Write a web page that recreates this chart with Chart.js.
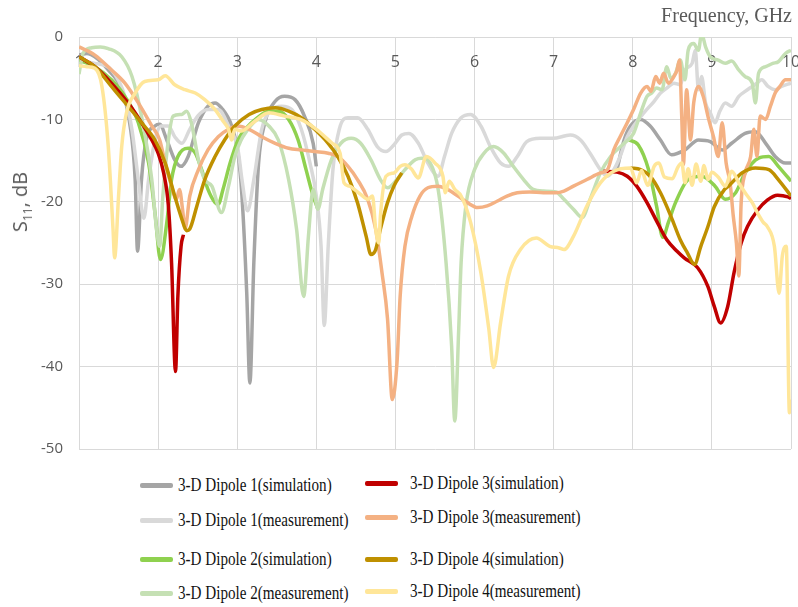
<!DOCTYPE html>
<html>
<head>
<meta charset="utf-8">
<script src="https://cdn.jsdelivr.net/npm/chart.js@4.4.1/dist/chart.umd.min.js"></script>
<style>
  body { margin: 0; background: #fff; }
  #page { position: relative; width: 798px; height: 607px; overflow: hidden; background: #fff; }
  #wrap { position: absolute; left: 0; top: 0; width: 798px; height: 460px; }
  .xtitle { position: absolute; right: 6px; top: 4px; font: 20px "Liberation Serif", serif; color: #595959; white-space: nowrap; }
  .ytitle { position: absolute; left: 21px; top: 202px; transform: translate(-50%, -50%) rotate(-90deg);
            font: 20px "Open Sans", sans-serif; color: #595959; white-space: nowrap; }
  .ytitle sub { font-size: 12px; }
  .leg-line { position: absolute; width: 33px; height: 5px; border-radius: 2px; }
  .leg-text { position: absolute; font: 18px "Liberation Serif", serif; color: #111; white-space: nowrap;
              transform: scaleX(0.84); transform-origin: left center; line-height: 22px; }
</style>
</head>
<body>
<div id="page">
  <div id="wrap"><canvas id="chart"></canvas></div>
  <div class="xtitle">Frequency, GHz</div>
  <div class="ytitle">S<sub>11</sub>, dB</div>
  <div id="legend"></div>
</div>
<script>
// x ticks / y ticks
const freqTicks = [1, 2, 3, 4, 5, 6, 7, 8, 9, 10];
const dbTicks = [0, -10, -20, -30, -40, -50];

// 3-D Dipole 1 (simulation)
const d1SimFreq = [1.0, 1.1, 1.2, 1.37, 1.54, 1.64, 1.71, 1.74, 1.79, 1.85, 1.96, 2.02, 2.11, 2.21, 2.29, 2.38, 2.51, 2.63, 2.72, 2.8, 2.93, 3.01, 3.06, 3.12, 3.16, 3.21, 3.27, 3.35, 3.48, 3.6, 3.73, 3.85, 3.96, 4.0,
  5.0,
  7.8, 7.89, 7.97, 8.1, 8.22, 8.35, 8.49, 8.66, 8.83, 8.98, 9.13, 9.25, 9.42, 9.55, 9.68, 9.8, 9.93, 10.0];
const d1SimDb = [-2.2, -2.0, -2.4, -4, -6.4, -10.4, -17.3, -26, -17.3, -12.5, -10.8, -10.6, -12.5, -14.9, -15.7, -14.5, -10.4, -8.4, -8.0, -8.6, -10.8, -14.1, -19.3, -31, -42, -27.4, -15.3, -10.4, -7.8, -7.2, -7.6, -9.6, -12.9, -15.7,
  null,
  -16.1, -12.5, -10.8, -10.0, -10.8, -12.5, -14.3, -13.7, -12.5, -12.7, -13.7, -12.9, -11.7, -11.5, -12.9, -14.5, -15.3, -15.3];

// 3-D Dipole 1 (measurement)
const d1MeasFreq = [1.0, 1.2, 1.41, 1.58, 1.67, 1.75, 1.82, 1.88, 1.96, 2.04, 2.13, 2.21, 2.3, 2.4, 2.5, 2.63, 2.76, 2.89, 3.01, 3.06, 3.13, 3.21, 3.31, 3.44, 3.56, 3.69, 3.81, 3.92, 4.0, 4.06, 4.1, 4.15, 4.21, 4.29, 4.4, 4.52, 4.65, 4.77, 4.88, 4.98, 5.08, 5.17, 5.29, 5.41, 5.54, 5.62, 5.71, 5.83, 5.95, 6.08, 6.2, 6.33, 6.43, 6.54, 6.66, 6.83, 6.99, 7.21, 7.34, 7.46, 7.59, 7.68, 7.76, 7.84, 7.93, 8.01, 8.14, 8.27, 8.35, 8.43, 8.52, 8.6, 8.66, 8.75, 8.79, 8.83, 8.87, 8.92, 8.98, 9.04, 9.1, 9.17, 9.25, 9.34, 9.42, 9.51, 9.57, 9.63, 9.71, 9.8, 9.88, 10.0];
const d1MeasDb = [-3, -3.2, -4, -7.2, -11.3, -17.3, -22, -17.3, -12.5, -10.8, -10.8, -12.1, -12.9, -11.2, -9.6, -8.8, -8.8, -10.8, -13.7, -17.3, -21.1, -17.3, -11.2, -8.8, -8.4, -8.8, -11.2, -15.3, -19.3, -25.4, -35, -25.4, -16.1, -11.2, -9.8, -9.8, -11.2, -13.3, -13.9, -13.1, -11.9, -11.7, -12.9, -15.3, -16.9, -14.5, -11.7, -9.8, -9.4, -10.8, -13.3, -15.3, -15.7, -14.5, -12.7, -12.3, -12.3, -11.9, -12.5, -14.1, -16.1, -16.9, -16.1, -14.5, -12.1, -10.8, -9.2, -7.8, -6.8, -6.2, -5.6, -5.8, -4.0, -3.2, -1.6, -6.4, -4.8, -8.0, -9.2, -10.4, -9.0, -8, -8.4, -7.2, -6.6, -6, -5.6, -5.2, -6.0, -6.4, -6.0, -5.6];

// 3-D Dipole 2 (simulation)
const d2SimFreq = [1.0, 1.2, 1.41, 1.58, 1.75, 1.88, 1.96, 2.03, 2.11, 2.17, 2.25, 2.38, 2.47, 2.55, 2.63, 2.72, 2.76, 2.82, 2.91, 3.01, 3.12, 3.23, 3.4, 3.52, 3.65, 3.77, 3.87, 3.96, 4.02,
  5.0,
  7.95, 8.07, 8.2, 8.3, 8.38, 8.45, 8.54, 8.7, 8.87, 9.04, 9.17, 9.3, 9.42, 9.59, 9.72, 9.84, 10.0];
const d2SimDb = [-2.8, -3.6, -5.2, -7.2, -10.4, -15.3, -21.3, -27, -22.5, -17.3, -14.5, -13.5, -14.1, -16.1, -18.5, -20.1, -20.3, -18.5, -15.3, -12.5, -11.0, -10, -9.0, -9, -10, -12.5, -16.1, -19.3, -20.9,
  null,
  -12.5, -13.1, -16.1, -20.5, -24.3, -22.5, -20.1, -17.3, -16.9, -18.1, -19.7, -18.9, -16.5, -14.7, -14.5, -15.7, -17.5];

// 3-D Dipole 2 (measurement)
const d2MeasFreq = [1.0, 1.05, 1.16, 1.27, 1.37, 1.54, 1.67, 1.79, 1.92, 1.98, 2.02, 2.06, 2.13, 2.19, 2.3, 2.36, 2.42, 2.51, 2.59, 2.68, 2.8, 2.89, 2.97, 3.05, 3.1, 3.27, 3.4, 3.52, 3.65, 3.75, 3.84, 3.9, 3.96, 4.02, 4.08, 4.19, 4.31, 4.44, 4.56, 4.69, 4.81, 4.9, 5.02, 5.12, 5.25, 5.33, 5.44, 5.54, 5.64, 5.71, 5.75, 5.8, 5.83, 5.89, 6.0, 6.12, 6.24, 6.37, 6.49, 6.62, 6.74, 6.87, 7.03, 7.13, 7.25, 7.36, 7.46, 7.59, 7.72, 7.89, 8.01, 8.1, 8.18, 8.24, 8.3, 8.37, 8.43, 8.48, 8.54, 8.6, 8.66, 8.7, 8.77, 8.83, 8.87, 8.92, 8.98, 9.08, 9.17, 9.25, 9.34, 9.42, 9.51, 9.55, 9.59, 9.68, 9.77, 9.84, 9.93, 10.0];
const d2MeasDb = [-4.5, -2.0, -1.3, -1.2, -1.4, -2.4, -4.8, -9.6, -17.3, -23.3, -25.4, -19.3, -12.5, -9.6, -9.4, -9, -10.4, -14.9, -17.3, -18.1, -21.3, -18.1, -14.5, -12.5, -11.7, -10, -10.8, -12.5, -17.3, -23.3, -31.5, -24.2, -18.5, -20.9, -18.5, -14.9, -12.9, -12.3, -12.9, -14.9, -17.3, -18.3, -17.3, -16.1, -14.9, -14.7, -15.3, -18.5, -27.4, -37.5, -46.6, -35.4, -27.4, -20.5, -16.1, -14.1, -13.3, -14.1, -15.7, -17.3, -18.5, -18.7, -18.8, -19.7, -20.9, -21.9, -19.7, -16.5, -14.5, -12.9, -11.7, -9.2, -7.2, -6.8, -6.2, -6.4, -3.6, -5.0, -4.4, -2.8, -5.2, -1.6, -0.8, -1.6, 0.4, -1.2, -2.4, -2.8, -3.2, -2.9, -4, -4.8, -5.6, -8.0, -4.4, -3.6, -3.2, -3.0, -2.0, -1.6];

// 3-D Dipole 3 (simulation)
const d3SimFreq = [1.0, 1.2, 1.41, 1.62, 1.79, 1.92, 2.0, 2.07, 2.13, 2.17, 2.22, 2.25, 2.29, 2.32,
  5.0,
  7.63, 7.8, 7.93, 8.05, 8.18, 8.31, 8.43, 8.56, 8.65, 8.82, 8.95, 9.03, 9.11, 9.2, 9.28, 9.37, 9.45, 9.58, 9.7, 9.83, 9.96, 10.0];
const d3SimDb = [-2.4, -3.6, -5.6, -8, -10.4, -12.5, -14.1, -16.5, -20.5, -27.4, -40.6, -31.4, -25.4, -24,
  null,
  -16.3, -16.4, -16.9, -18.1, -20.1, -22.5, -24.6, -26, -26.8, -28, -30.3, -32.7, -34.7, -32.7, -28.6, -25, -23, -21, -19.8, -19.2, -19.4, -19.6];

// 3-D Dipole 3 (measurement)
const d3MeasFreq = [1.0, 1.2, 1.41, 1.58, 1.75, 1.92, 2.02, 2.09, 2.17, 2.23, 2.27, 2.31, 2.34, 2.4, 2.51, 2.63, 2.76, 2.89, 3.0, 3.15, 3.31, 3.48, 3.65, 3.81, 3.98, 4.15, 4.27, 4.4, 4.52, 4.65, 4.75, 4.83, 4.9, 4.96, 5.02, 5.06, 5.12, 5.21, 5.31, 5.41, 5.54, 5.66, 5.79, 5.91, 6.04, 6.16, 6.29, 6.41, 6.54, 6.7, 6.87, 7.03, 7.13, 7.25, 7.42, 7.59, 7.68, 7.76, 7.84, 7.93, 8.01, 8.1, 8.18, 8.23, 8.29, 8.34, 8.39, 8.45, 8.52, 8.56, 8.59, 8.62, 8.64, 8.68, 8.73, 8.77, 8.83, 8.89, 8.96, 9.02, 9.08, 9.13, 9.18, 9.23, 9.27, 9.31, 9.34, 9.37, 9.42, 9.49, 9.53, 9.57, 9.61, 9.68, 9.74, 9.8, 9.86, 9.93, 10.0];
const d3MeasDb = [-1.2, -2.2, -4, -5.6, -8, -10.8, -12.5, -15.3, -18.1, -19.7, -18.5, -21, -23.3, -19.3, -16.1, -13.7, -12.1, -11.2, -10.8, -11.2, -12.1, -12.9, -13.5, -13.7, -13.9, -14.1, -14.5, -15.7, -17.3, -19.7, -23.3, -28.6, -34.2, -44, -39.5, -31.4, -25.4, -21.7, -19.3, -18.3, -18.1, -18.5, -19.3, -20.1, -20.7, -20.5, -19.9, -19.3, -18.9, -18.8, -18.9, -18.9, -18.7, -18.1, -17.3, -16.5, -16.1, -13.7, -12.1, -10.4, -8.8, -6.8, -6, -6.6, -4.8, -5.6, -4.4, -5.6, -4.8, -4.0, -2.8, -10, -15.5, -6.4, -12.5, -8, -6, -7.2, -10, -12.1, -14.5, -10.4, -15.3, -17.7, -21.7, -25, -29, -20.1, -16.5, -14.5, -11.2, -14.5, -9.6, -10, -8.4, -6.8, -6, -5.2, -5.2];

// 3-D Dipole 4 (simulation)
const d4SimFreq = [1.0, 1.2, 1.41, 1.62, 1.79, 1.96, 2.09, 2.21, 2.3, 2.36, 2.4, 2.49, 2.59, 2.72, 2.84, 2.97, 3.15, 3.31, 3.48, 3.65, 3.81, 3.98, 4.15, 4.27, 4.4, 4.52, 4.63, 4.69, 4.75, 4.81, 4.9, 4.98, 5.08,
  6.0,
  7.97, 8.1, 8.22, 8.35, 8.48, 8.6, 8.69, 8.78, 8.86, 8.95, 9.03, 9.16, 9.21, 9.38, 9.55, 9.72, 9.84, 10.0];
const d4SimDb = [-2.4, -3.6, -6, -8.4, -10.4, -12.5, -15.3, -19.3, -22.1, -23.5, -23.3, -20.5, -17.3, -14.5, -12.5, -10.8, -9.4, -8.8, -8.6, -9, -9.8, -11.2, -12.9, -14.5, -16.9, -20.1, -24.2, -26.4, -25.8, -23.3, -20.1, -18.1, -16.5,
  null,
  -15.9, -16.1, -16.9, -18.9, -21.7, -24.6, -26.2, -27.6, -25.4, -23, -20.6, -18.5, -18.1, -16.5, -15.9, -16.1, -17.3, -19.3];

// 3-D Dipole 4 (measurement)
const d4MeasFreq = [1.0, 1.1, 1.2, 1.29, 1.37, 1.43, 1.45, 1.5, 1.54, 1.6, 1.71, 1.83, 2.0, 2.09, 2.21, 2.34, 2.47, 2.59, 2.72, 2.82, 2.89, 2.93, 2.97, 3.05, 3.2, 3.4, 3.6, 3.8, 4.0, 4.2, 4.3, 4.35, 4.42, 4.48, 4.56, 4.65, 4.71, 4.75, 4.79, 4.81, 4.88, 4.98, 5.06, 5.12, 5.2, 5.29, 5.39, 5.5, 5.6, 5.63, 5.68, 5.75, 5.83, 5.95, 6.08, 6.18, 6.24, 6.33, 6.43, 6.58, 6.78, 6.95, 7.07, 7.13, 7.25, 7.42, 7.59, 7.76, 7.97, 8.05, 8.11, 8.19, 8.27, 8.33, 8.4, 8.5, 8.57, 8.62, 8.66, 8.7, 8.75, 8.8, 8.86, 8.9, 8.95, 9.0, 9.08, 9.17, 9.25, 9.34, 9.42, 9.51, 9.58, 9.65, 9.7, 9.79, 9.85, 9.89, 9.94, 9.98, 10.0];
const d4MeasDb = [-3.5, -3.6, -3.8, -6, -13.3, -23.3, -26.8, -19.3, -13.3, -9.2, -6.8, -5.4, -5.2, -4.7, -5.8, -6.4, -6.8, -7.6, -8.8, -10.2, -11.2, -12.5, -11.2, -11.4, -10.4, -9.2, -9.6, -10, -11.2, -12.9, -14.1, -17.7, -18.1, -18.5, -19.1, -19.7, -19.3, -23.3, -25, -21.7, -16.9, -16.5, -15.7, -15.5, -16, -17.1, -14.5, -15.3, -16.9, -18.9, -17.5, -18.5, -19.3, -22.5, -28.6, -35.4, -40.1, -34.6, -29, -25.8, -24.4, -25.4, -25.6, -25.8, -24.2, -20.5, -17.7, -16.3, -15.9, -17.7, -16.2, -18.0, -15.7, -15.3, -17.0, -17.2, -15.8, -15.3, -17.7, -16.0, -18.0, -15.4, -17.5, -15.6, -17.3, -16.4, -17.0, -18.1, -16.3, -17.7, -18.9, -20.1, -21.4, -22.5, -23, -25.4, -31.1, -26.6, -25.4, -45.6, -44];

const labels = [
  '3-D Dipole 1(simulation)', '3-D Dipole 1(measurement)',
  '3-D Dipole 2(simulation)', '3-D Dipole 2(measurement)',
  '3-D Dipole 3(simulation)', '3-D Dipole 3(measurement)',
  '3-D Dipole 4(simulation)', '3-D Dipole 4(measurement)'
];
const colors = ['#a5a5a5', '#d9d9d9', '#8fd14f', '#c5e0b4', '#c00000', '#f4b183', '#bf9000', '#ffe699'];

function pts(freq, db) {
  return freq.map((f, i) => ({ x: f, y: db[i] }));
}

const seriesData = [
  pts(d1SimFreq, d1SimDb), pts(d1MeasFreq, d1MeasDb),
  pts(d2SimFreq, d2SimDb), pts(d2MeasFreq, d2MeasDb),
  pts(d3SimFreq, d3SimDb), pts(d3MeasFreq, d3MeasDb),
  pts(d4SimFreq, d4SimDb), pts(d4MeasFreq, d4MeasDb)
];

// first dataset is drawn on top, so reverse to keep Dipole 4 (measurement) on top
const datasets = seriesData.map((data, i) => ({
  label: labels[i],
  data: data,
  borderColor: colors[i],
  backgroundColor: colors[i],
  borderWidth: 3.5,
  pointRadius: 0,
  cubicInterpolationMode: 'monotone',
  spanGaps: false
})).reverse();

new Chart(document.getElementById('chart'), {
  type: 'line',
  data: { datasets: datasets },
  options: {
    responsive: true,
    maintainAspectRatio: false,
    animation: false,
    layout: { padding: { top: 37, right: 7, bottom: 11, left: 0 } },
    plugins: { legend: { display: false }, tooltip: { enabled: false } },
    scales: {
      x: {
        type: 'linear',
        position: { y: 0 },  // axis crosses at 0 dB, labels sit just under the top line
        min: freqTicks[0],
        max: freqTicks[freqTicks.length - 1],
        afterBuildTicks: (s) => { s.ticks = freqTicks.map(v => ({ value: v })); },
        afterFit: (s) => { s.paddingLeft = 0; s.paddingRight = 0; },
        grid: { color: '#d9d9d9', drawTicks: false },
        border: { color: '#d9d9d9' },
        ticks: { padding: 16, color: '#595959', font: { family: 'Open Sans', size: 16 } }
      },
      y: {
        min: dbTicks[dbTicks.length - 1],
        max: dbTicks[0],
        afterBuildTicks: (s) => { s.ticks = dbTicks.map(v => ({ value: v })); },
        afterFit: (s) => { s.width = 79; s.paddingTop = 0; s.paddingBottom = 0; },
        grid: { color: '#d9d9d9', drawTicks: false },
        border: { color: '#d9d9d9' },
        ticks: { padding: 16, color: '#595959', font: { family: 'Open Sans', size: 15 } }
      }
    }
  }
});

// legend, two columns in the same row order as the reference
const legendSlots = [
  { i: 0, lx: 140, tx: 178, y: 485 }, { i: 4, lx: 365, tx: 410, y: 483 },
  { i: 1, lx: 140, tx: 178, y: 520 }, { i: 5, lx: 365, tx: 410, y: 517 },
  { i: 2, lx: 140, tx: 178, y: 559 }, { i: 6, lx: 365, tx: 410, y: 559 },
  { i: 3, lx: 140, tx: 178, y: 593 }, { i: 7, lx: 365, tx: 410, y: 591 }
];
const legendEl = document.getElementById('legend');
legendSlots.forEach(slot => {
  const line = document.createElement('div');
  line.className = 'leg-line';
  line.style.left = slot.lx + 'px';
  line.style.top = (slot.y - 2.5) + 'px';
  line.style.background = colors[slot.i];
  legendEl.appendChild(line);

  const text = document.createElement('div');
  text.className = 'leg-text';
  text.style.left = slot.tx + 'px';
  text.style.top = (slot.y - 11) + 'px';
  text.textContent = labels[slot.i];
  legendEl.appendChild(text);
});
</script>
</body>
</html>
